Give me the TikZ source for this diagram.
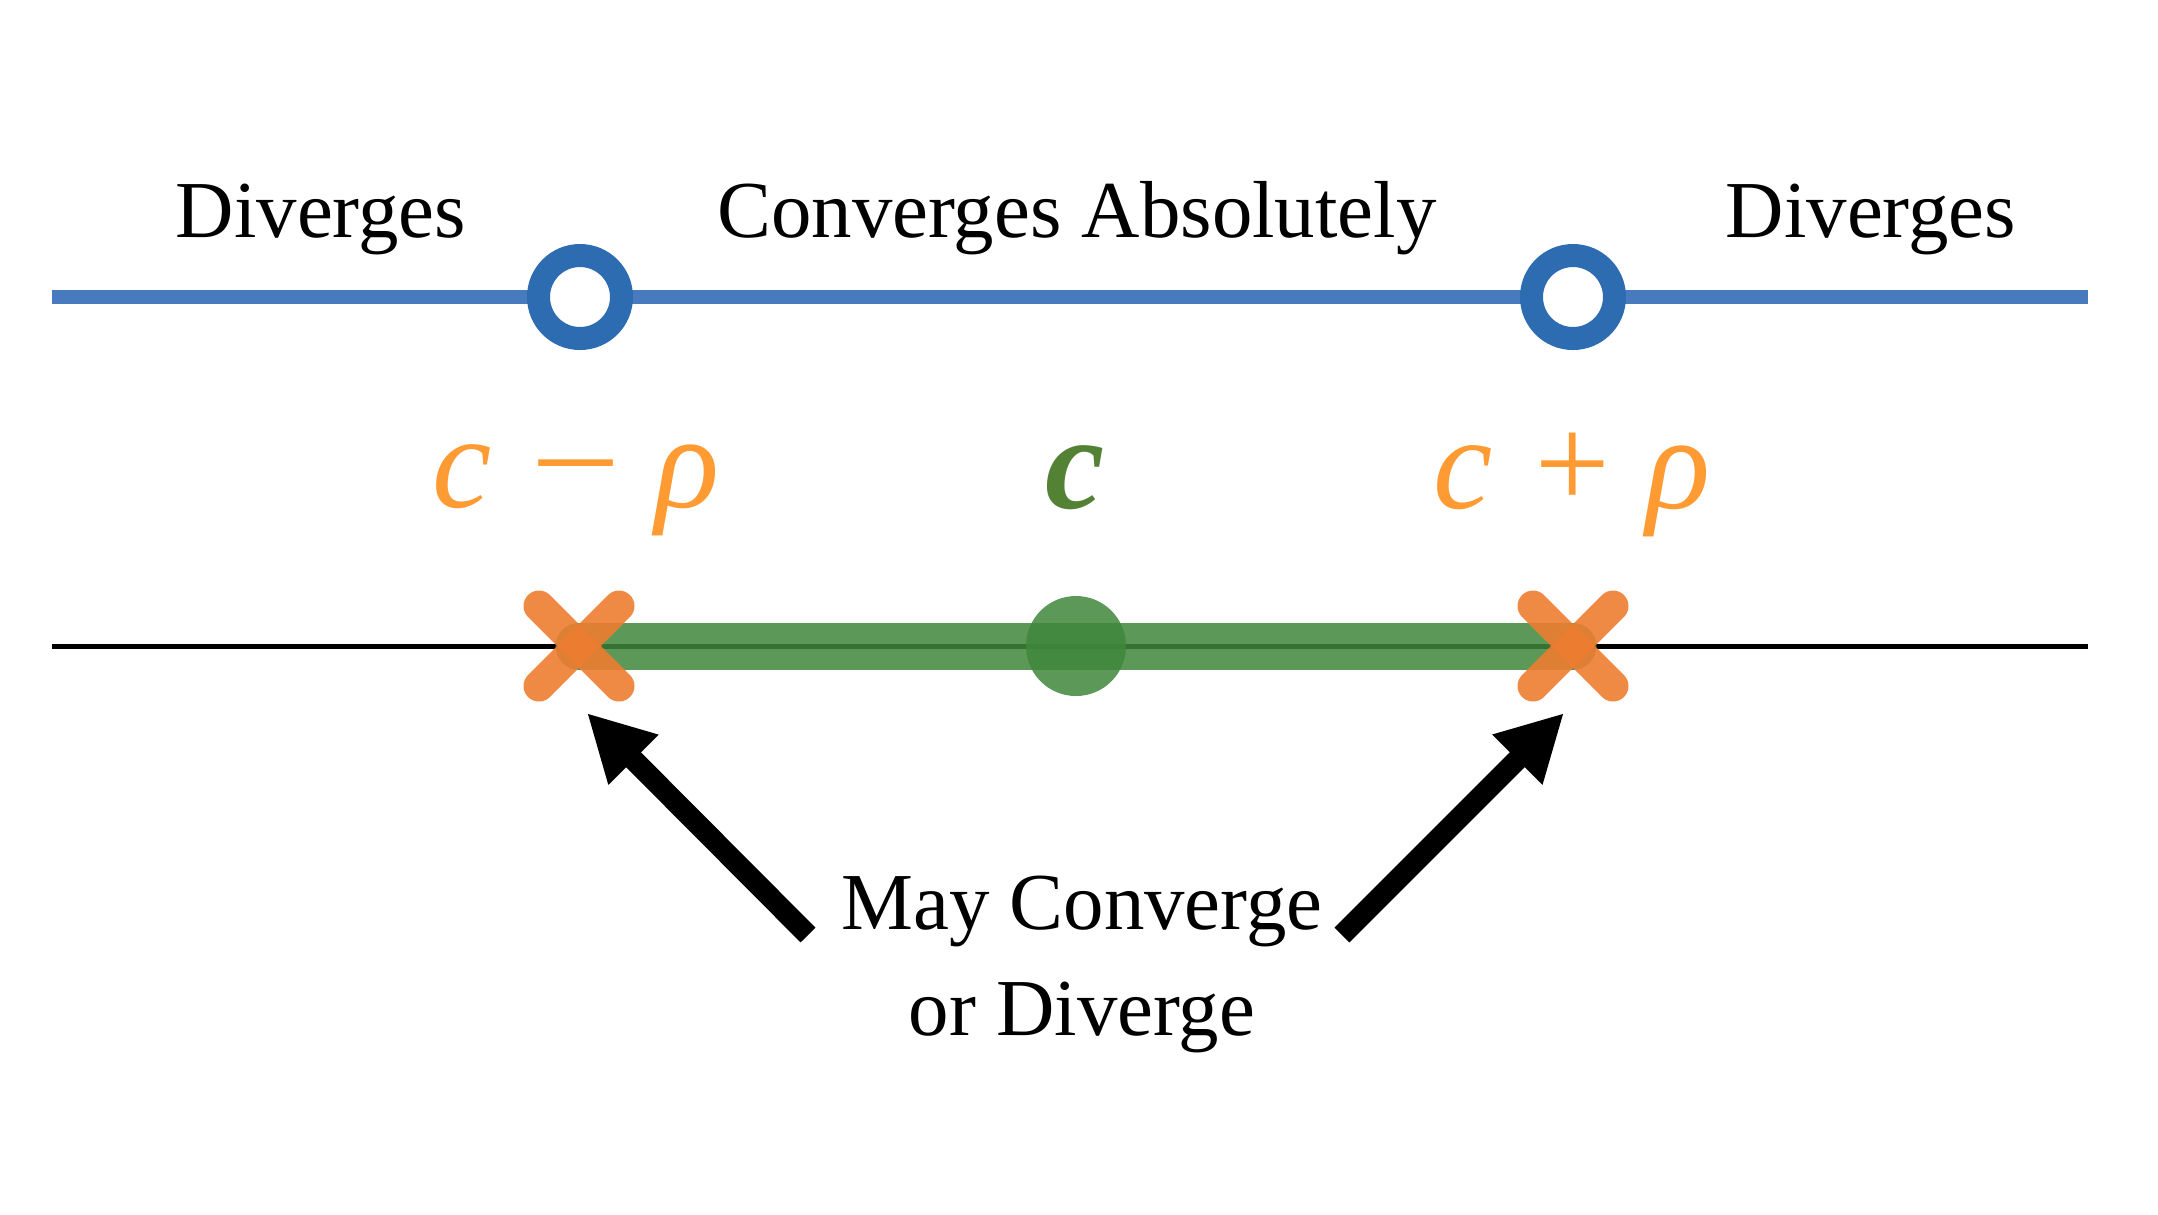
\documentclass[tikz,border=0pt]{standalone}
\usepackage{fontspec}
\setmainfont{Liberation Serif}
\usetikzlibrary{arrows.meta, calc}

\definecolor{lineblue}{RGB}{72,122,190}
\definecolor{ringblue}{RGB}{46,108,178}
\definecolor{bandgreen}{RGB}{64,134,59}
\definecolor{labelgreen}{RGB}{84,130,53}
\definecolor{crossorange}{RGB}{237,125,49}
\definecolor{labelorange}{RGB}{255,155,50}

\tikzset{
	region/.style = {anchor = base, font = \fontsize{23}{30}\selectfont},
	endlabel/.style = {anchor = base, text = labelorange, font = \fontsize{38}{44}\selectfont},
	ring/.style = {draw = ringblue, line width = 0.23cm, fill = white},
	cross/.style = {draw = crossorange, line width = 0.31cm, line cap = round, opacity = 0.9},
	bigarrow/.style = {line width = 0.21cm, -{Triangle[length = 0.66cm, width = 0.66cm]}}
}

\begin{document}
\begin{tikzpicture}

	\useasboundingbox (0, 0) rectangle (21.58, -12.14);

	% Points on the axis

	\coordinate (lo) at (5.79, -6.46);
	\coordinate (mid) at (10.76, -6.46);
	\coordinate (hi) at (15.73, -6.46);

	% Upper line
	
	\draw [lineblue, line width = 0.14cm] (0.52, -2.97) -- (20.88, -2.97);
	\draw [ring] (5.80, -2.97) circle (0.415);
	\draw [ring] (15.73, -2.97) circle (0.415);

	\node [region] (divleft) at (3.21, -2.37) {Diverges};
	\node [region] (absconv) at (10.77, -2.37) {Converges Absolutely};
	\node [region] (divright) at (18.71, -2.37) {Diverges};

	% Lower line

	\draw [black, line width = 0.05cm] (0.52, -6.46) -- (20.88, -6.46);

	\begin{scope}[bandgreen, opacity = 0.85]
		\draw [line width = 0.47cm, line cap = round] (lo) -- (hi);
		\fill (mid) circle (0.5);
	\end{scope}

	\foreach \p in {lo, hi}
	{
		\draw [cross] ($(\p) + (-0.40, 0.40)$) -- ($(\p) + (0.40, -0.40)$);
		\draw [cross] ($(\p) + (-0.40, -0.40)$) -- ($(\p) + (0.40, 0.40)$);
	}

	% Labels

	\node [endlabel] (minus) at (5.76, -5.07) {\itshape c\hspace{0.22em}\scalebox{1.2}[1]{−}\hspace{0.2em}ρ};
	\node [endlabel, text = labelgreen] (centre) at (10.75, -5.08) {\bfseries\itshape c};
	\node [endlabel] (plus) at (15.72, -5.08) {\itshape c\hspace{0.25em}+\hspace{0.22em}ρ};

	% Arrows

	\node [region, align = center] (maybe) at (10.82, -10.35) {May Converge\\or Diverge};

	\coordinate (tailL) at (8.08, -9.35);
	\coordinate (tipL) at (5.87, -7.13);
	\coordinate (tailR) at (13.42, -9.35);
	\coordinate (tipR) at (15.64, -7.13);

	\draw [bigarrow] (tailL) -- (tipL);
	\draw [bigarrow] (tailR) -- (tipR);

\end{tikzpicture}
\end{document}
